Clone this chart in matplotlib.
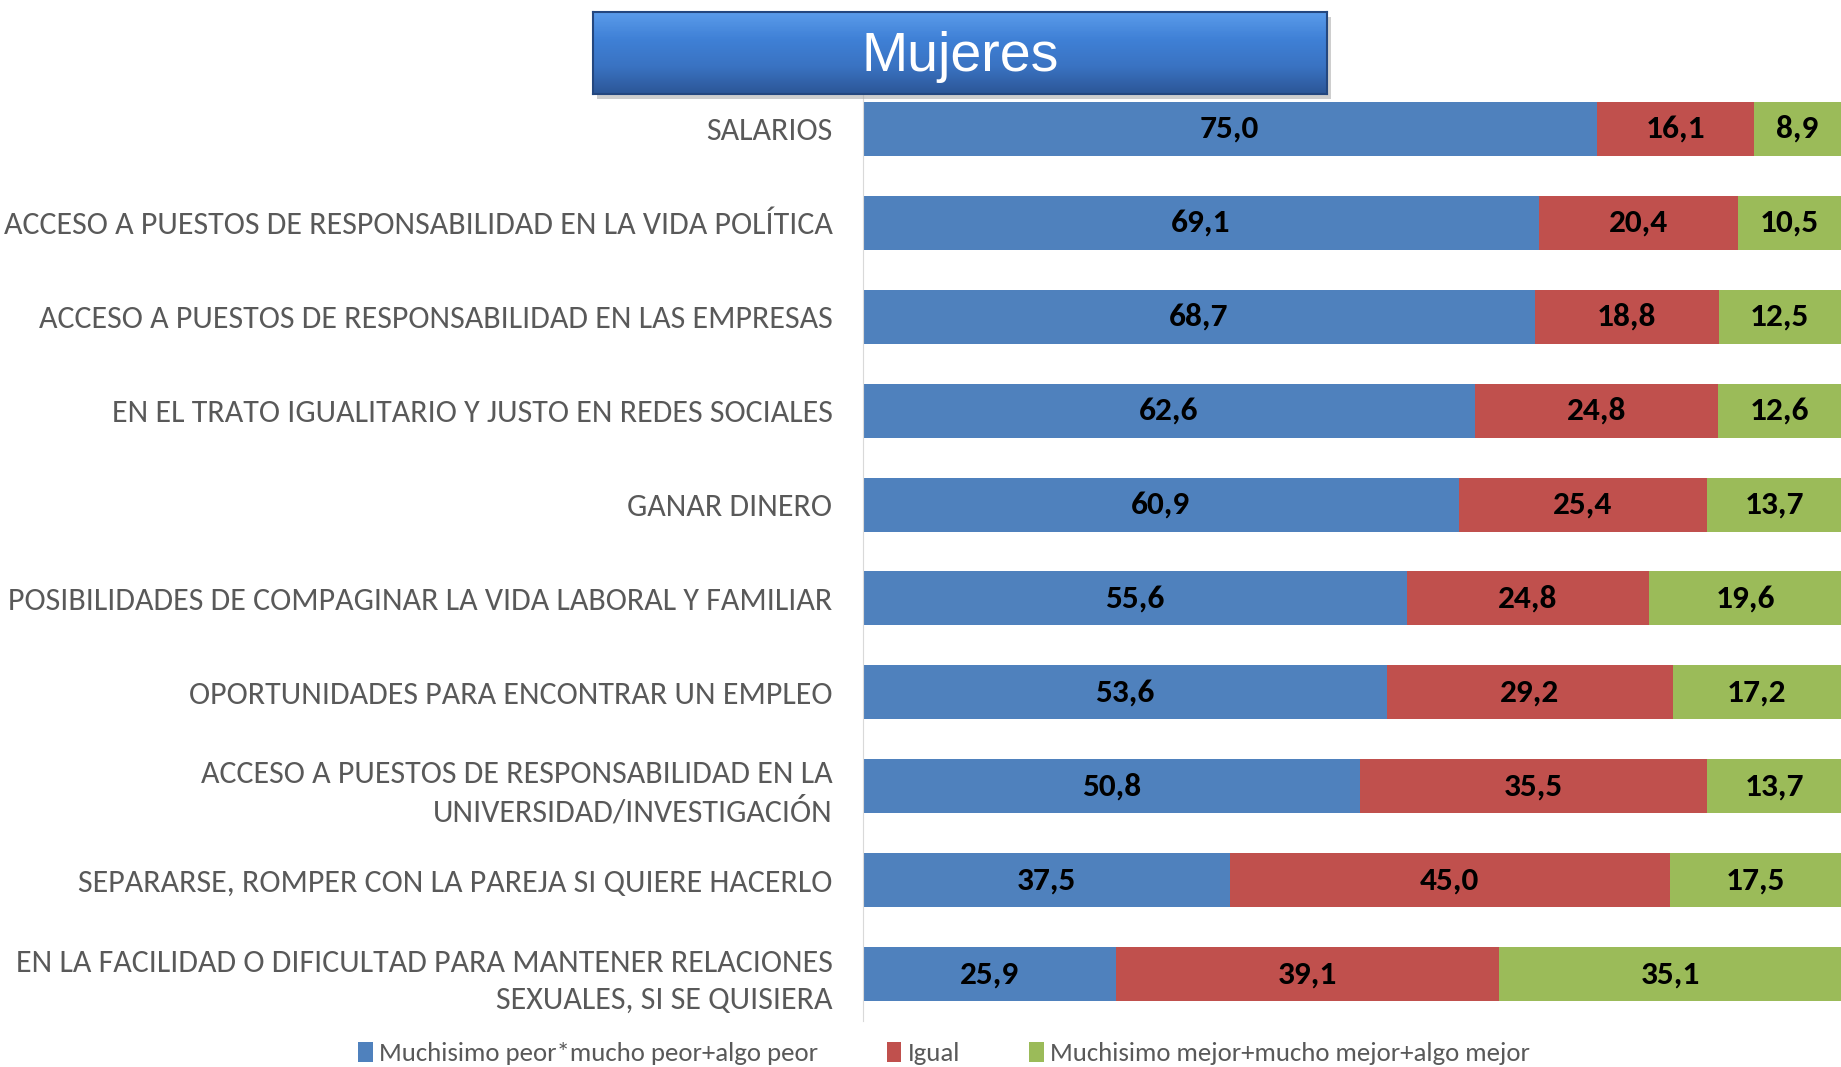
import numpy as np
import matplotlib.pyplot as plt
from matplotlib.colors import LinearSegmentedColormap

categorias = ['SALARIOS',
              'ACCESO A PUESTOS DE RESPONSABILIDAD EN LA VIDA POLÍTICA',
              'ACCESO A PUESTOS DE RESPONSABILIDAD EN LAS EMPRESAS',
              'EN EL TRATO IGUALITARIO Y JUSTO EN REDES SOCIALES',
              'GANAR DINERO',
              'POSIBILIDADES DE COMPAGINAR LA VIDA LABORAL Y FAMILIAR',
              'OPORTUNIDADES PARA ENCONTRAR UN EMPLEO',
              'ACCESO A PUESTOS DE RESPONSABILIDAD EN LA\nUNIVERSIDAD/INVESTIGACIÓN',
              'SEPARARSE, ROMPER CON LA PAREJA SI QUIERE HACERLO',
              'EN LA FACILIDAD O DIFICULTAD PARA MANTENER RELACIONES\nSEXUALES, SI SE QUISIERA']
peor = [75.0, 69.1, 68.7, 62.6, 60.9, 55.6, 53.6, 50.8, 37.5, 25.9]
igual = [16.1, 20.4, 18.8, 24.8, 25.4, 24.8, 29.2, 35.5, 45.0, 39.1]
mejor = [8.9, 10.5, 12.5, 12.6, 13.7, 19.6, 17.2, 13.7, 17.5, 35.1]
series = ['Muchisimo peor*mucho peor+algo peor', 'Igual',
          'Muchisimo mejor+mucho mejor+algo mejor']
colores = ['#4F81BD', '#C0504D', '#9BBB59']

fuente = ['Carlito', 'Liberation Sans Narrow', 'DejaVu Sans Condensed']

fig = plt.figure(figsize=(18.41, 10.67), dpi=100)
ax = fig.add_axes([863/1841, 1-1021/1067, 1-863/1841, (1021-82)/1067])

y = np.arange(len(categorias))
izq = np.zeros(len(categorias))
for vals, nom, col in zip([peor, igual, mejor], series, colores):
    vals = np.array(vals)
    ax.barh(y, vals, left=izq, height=0.575, color=col, label=nom)
    for yi, l, v in zip(y, izq, vals):
        ax.text(l + v/2, yi, f'{v:.1f}'.replace('.', ','), ha='center', va='center',
                fontsize=24, fontweight='bold', color='black', family=fuente)
    izq += vals

ax.set_xlim(0, 100)
ax.set_ylim(len(categorias) - 0.5, -0.5)
ax.set_yticks(y)
ax.set_yticklabels(categorias, fontsize=23, color='#595959', family=fuente,
                   linespacing=1.38)
ax.tick_params(axis='y', length=0, pad=22)
ax.set_xticks([])
for s in ['top', 'right', 'bottom']:
    ax.spines[s].set_visible(False)
ax.spines['left'].set_color('#D9D9D9')

# caja del titulo con sombra
x0, y0, w, h = 593/1841, 1-94/1067, (1327-593)/1841, 82/1067
sax = fig.add_axes([x0 + 0.002, y0 - 0.005, w, h])
sax.set_facecolor('#A6A6A6')
sax.patch.set_alpha(0.55)
sax.set_xticks([])
sax.set_yticks([])
for s in sax.spines.values():
    s.set_visible(False)

tax = fig.add_axes([x0, y0, w, h])
grad = np.linspace(0, 1, 100)[:, None]
tax.imshow(grad, cmap=LinearSegmentedColormap.from_list(
    'g', ['#5A9BEA', '#3F80D6', '#3A73C2', '#2C5697']), aspect='auto', extent=[0, 1, 0, 1])
tax.set_xticks([])
tax.set_yticks([])
for s in tax.spines.values():
    s.set_color('#24477F')
    s.set_linewidth(1.5)
tax.text(0.5, 0.45, 'Mujeres', ha='center', va='center', color='white',
         fontsize=40, family=['Liberation Sans', 'DejaVu Sans'])

leg = fig.legend(loc='lower center', bbox_to_anchor=(0.5128, -0.021), ncol=3,
                 frameon=False, handlelength=0.55, handleheight=0.8,
                 handletextpad=0.25, columnspacing=2.55,
                 prop={'family': fuente, 'size': 19.3})
for t in leg.get_texts():
    t.set_color('#595959')

fig.savefig('out.png', dpi=100)
